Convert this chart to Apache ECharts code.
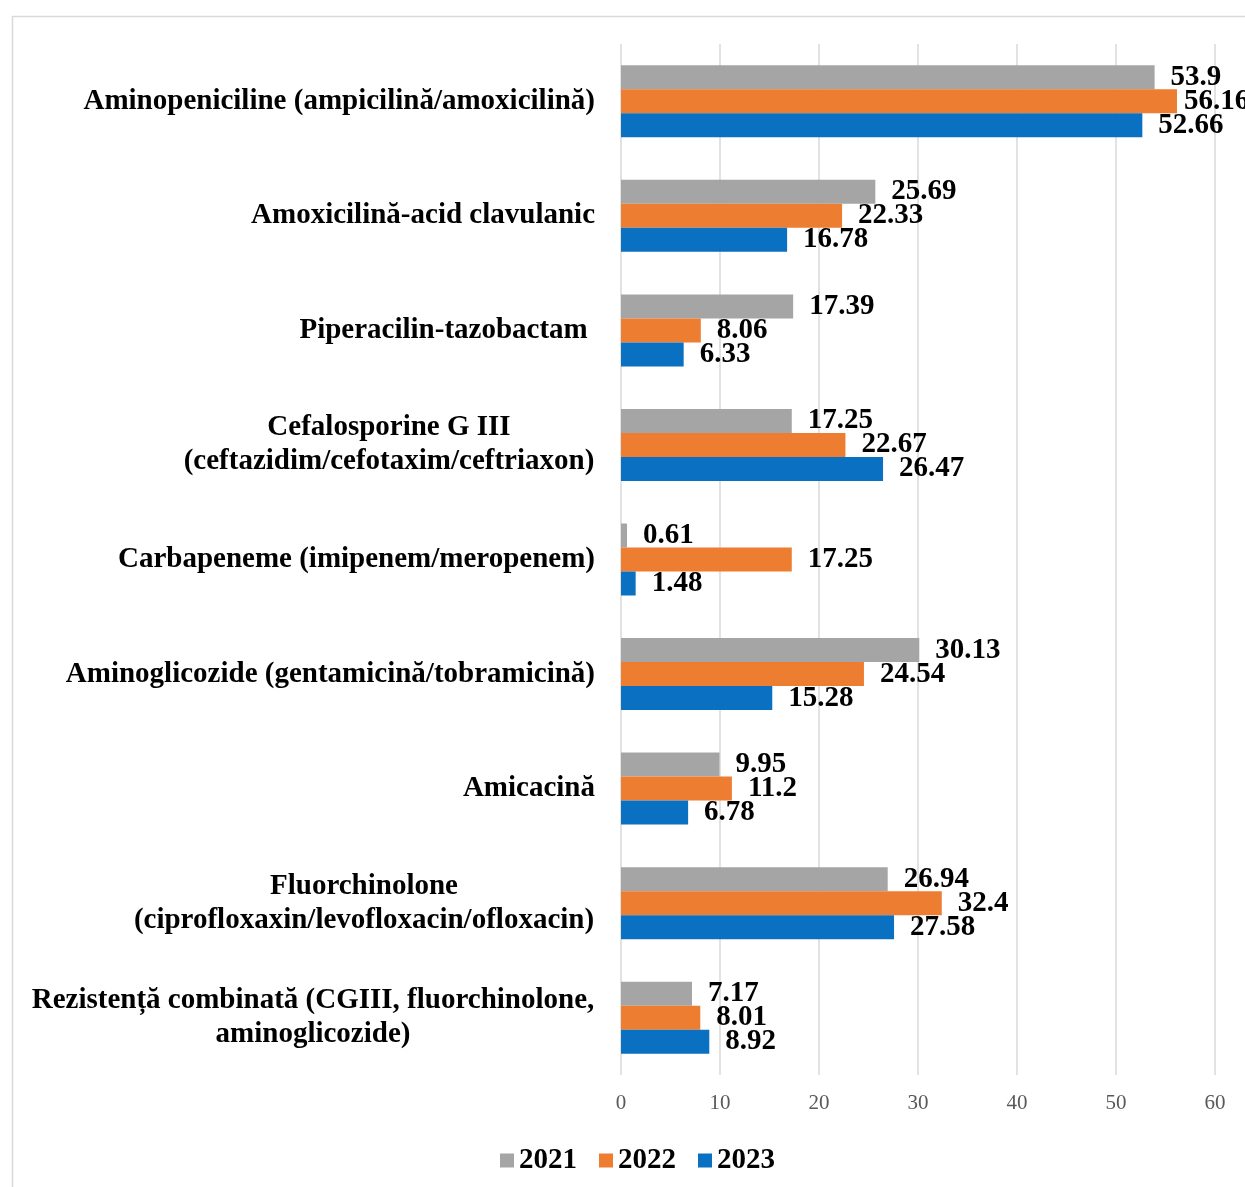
<!DOCTYPE html>
<html>
<head>
<meta charset="utf-8">
<script src="https://cdn.jsdelivr.net/npm/echarts@6/dist/echarts.min.js"></script>
<style>
  html, body { margin: 0; padding: 0; background: #fff; }
  #chart { width: 1245px; height: 1187px; }
</style>
</head>
<body>
<div id="chart"></div>
<script>
// Antimicrobial resistance rates (%) by antibiotic class, 2021–2023
const categories = [
  'Aminopeniciline (ampicilină/amoxicilină)',
  'Amoxicilină-acid clavulanic',
  'Piperacilin-tazobactam ',
  'Cefalosporine G III\n(ceftazidim/cefotaxim/ceftriaxon)',
  'Carbapeneme (imipenem/meropenem)',
  'Aminoglicozide (gentamicină/tobramicină)',
  'Amicacină',
  'Fluorchinolone\n(ciprofloxaxin/levofloxacin/ofloxacin)',
  'Rezistență combinată (CGIII, fluorchinolone,\naminoglicozide)'
];
const seriesNames = ['2021', '2022', '2023'];
const values2021 = [53.9, 25.69, 17.39, 17.25, 0.61, 30.13, 9.95, 26.94, 7.17];
const values2022 = [56.16, 22.33, 8.06, 22.67, 17.25, 24.54, 11.2, 32.4, 8.01];
const values2023 = [52.66, 16.78, 6.33, 26.47, 1.48, 15.28, 6.78, 27.58, 8.92];
const xTicks = [0, 10, 20, 30, 40, 50, 60];

const colors = ['#A5A5A5', '#ED7D31', '#0A70C2'];
const serif = '"Liberation Serif", "Times New Roman", serif';
const boldSize = 29;
const labelFont = 'bold ' + boldSize + 'px ' + serif;

// Multi-line category labels: lines centred within a block that is right-aligned to the axis
const ctx = document.createElement('canvas').getContext('2d');
ctx.font = labelFont;
const rich = {};
categories.forEach((c, i) => {
  const lines = c.split('\n');
  const w = Math.max(...lines.map(l => ctx.measureText(l).width));
  rich['c' + i] = {
    width: Math.ceil(w) + 1, align: 'center',
    fontFamily: serif, fontWeight: 'bold', fontSize: boldSize, lineHeight: 34, color: '#000'
  };
});

const chart = echarts.init(document.getElementById('chart'), null, { renderer: 'canvas' });

const barLabel = {
  show: true, position: 'right', distance: 16,
  fontFamily: serif, fontWeight: 'bold', fontSize: boldSize, color: '#000'
};

// Labels of bars reaching the far right sit closer to the bar end
const toItems = vals => vals.map(v => v > 55 ? { value: v, label: { distance: 7 } } : v);

chart.setOption({
  animation: false,
  color: colors,
  graphic: [{
    type: 'rect', left: 10, top: 14, silent: true,
    shape: { width: 1300, height: 1300 },
    style: { fill: 'none', stroke: '#D9D9D9', lineWidth: 1.5 }
  }],
  grid: { left: 621, right: 30, top: 44, bottom: 112, containLabel: false },
  legend: {
    data: seriesNames, left: 495, top: 1141, icon: 'rect',
    itemWidth: 14, itemHeight: 14, itemGap: 22,
    textStyle: { fontFamily: serif, fontWeight: 'bold', fontSize: boldSize, color: '#000' }
  },
  xAxis: {
    type: 'value', min: xTicks[0], max: xTicks[xTicks.length - 1], interval: 10,
    axisLine: { show: false }, axisTick: { show: false },
    splitLine: { lineStyle: { color: '#D9D9D9', width: 1.5 } },
    axisLabel: { margin: 18, fontFamily: serif, fontSize: 21, color: '#595959' }
  },
  yAxis: {
    type: 'category', data: categories, inverse: true,
    axisLine: { show: false }, axisTick: { show: false },
    axisLabel: {
      margin: 26, fontFamily: serif, fontWeight: 'bold', fontSize: boldSize, color: '#000',
      lineHeight: 34, rich: rich,
      formatter: (val, idx) => {
        const lines = val.split('\n');
        if (lines.length === 1) return val;
        return lines.map(l => '{c' + idx + '|' + l + '}').join('\n');
      }
    }
  },
  series: [values2021, values2022, values2023].map((vals, i) => ({
    name: seriesNames[i], type: 'bar', data: toItems(vals),
    barWidth: 24, barGap: '0%',
    label: barLabel
  }))
});
</script>
</body>
</html>
